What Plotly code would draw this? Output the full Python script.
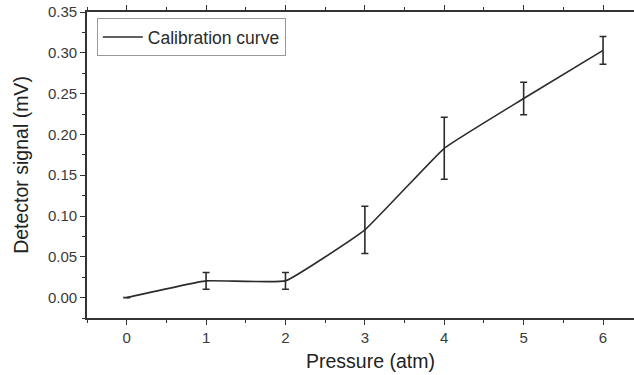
import plotly.graph_objects as go

pressure = [0, 1, 2, 3, 4, 5, 6]
signal = [0.0, 0.0205, 0.0205, 0.083, 0.183, 0.244, 0.303]
error = [0.0, 0.0103, 0.0103, 0.029, 0.038, 0.020, 0.017]
x_ticks = [0, 1, 2, 3, 4, 5, 6]
y_ticks = [0.00, 0.05, 0.10, 0.15, 0.20, 0.25, 0.30, 0.35]

FONT = "Liberation Sans, Arial, Helvetica, sans-serif"
AX = "#333333"

fig = go.Figure()
fig.add_trace(go.Scatter(
    x=pressure, y=signal, mode="lines", name="Calibration curve",
    line=dict(color="#2b2b2b", width=1.6, shape="spline", smoothing=0.3),
    error_y=dict(type="data", array=error, visible=True, color="#2b2b2b",
                 thickness=1.6, width=3.5),
))

fig.update_layout(
    width=634, height=375,
    margin=dict(l=87, r=0, t=12, b=57),
    paper_bgcolor="white", plot_bgcolor="white",
    font=dict(family=FONT, color="#222222"),
    showlegend=True,
    legend=dict(x=0.018, y=0.98, xanchor="left", yanchor="top",
                bordercolor="#999999", borderwidth=1, bgcolor="white",
                itemwidth=40, tracegroupgap=0,
                font=dict(size=17.5, color="#2a2a2a")),
    xaxis=dict(
        range=[-0.5, 6.39], tickvals=x_ticks, ticks="outside", ticklen=5,
        tickwidth=1.3, tickcolor=AX, showline=True, linecolor=AX, linewidth=1.6,
        mirror="ticks", showgrid=False, zeroline=False,
        tickfont=dict(size=15, color="#3a3a3a"),
        minor=dict(dtick=0.5, tick0=0.5, ticks="outside", ticklen=3, tickcolor=AX, tickwidth=1.2),
    ),
    yaxis=dict(
        range=[-0.025, 0.35], tickvals=y_ticks, tickformat=".2f", ticks="outside",
        ticklen=5, tickwidth=1.3, tickcolor=AX, showline=True, linecolor=AX,
        linewidth=1.6, mirror=False, showgrid=False, zeroline=False,
        tickfont=dict(size=15, color="#3a3a3a"),
        minor=dict(dtick=0.025, tick0=0.025, ticks="outside", ticklen=3, tickcolor=AX, tickwidth=1.2),
        title=dict(text="Detector signal (mV)", font=dict(size=19.5, color="#222222"), standoff=14),
    ),
    annotations=[dict(
        text="Pressure (atm)", xref="paper", yref="paper", x=0.519, y=-0.098,
        xanchor="center", yanchor="top", showarrow=False,
        font=dict(size=19.5, color="#222222"),
    )],
)

fig.write_html("out.html")
